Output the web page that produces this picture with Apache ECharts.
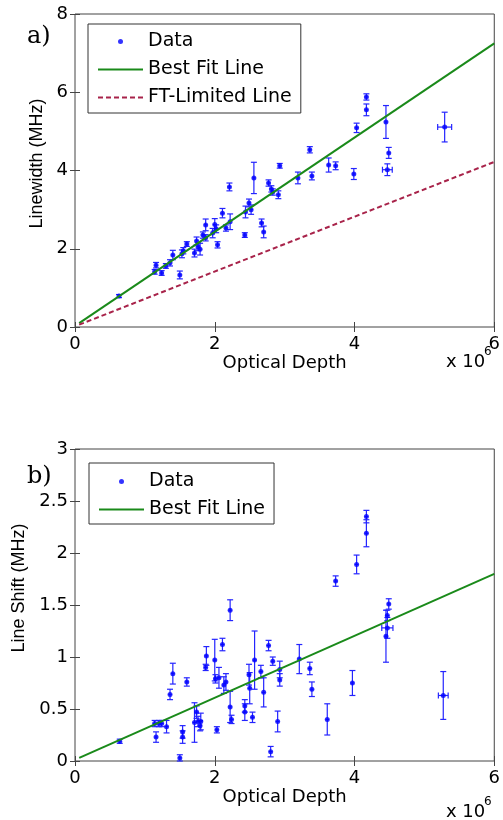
<!DOCTYPE html>
<html>
<head>
<meta charset="utf-8">
<script src="https://cdn.jsdelivr.net/npm/echarts@6/dist/echarts.min.js"></script>
<style>
  html, body { margin: 0; padding: 0; background: #fff; }
  #main { width: 503px; height: 820px; }
</style>
</head>
<body>
<div id="main"></div>
<script>
// optical depth in units of 1e6; [x, y, yErr, xErr]
var linewidthData = [
  [0.63, 0.79, 0.04], [1.14, 1.41, 0.06], [1.16, 1.58, 0.07], [1.24, 1.38, 0.06],
  [1.30, 1.56, 0.06], [1.36, 1.64, 0.08], [1.40, 1.84, 0.12], [1.50, 1.33, 0.10],
  [1.53, 1.87, 0.10], [1.55, 1.95, 0.08], [1.60, 2.12, 0.06], [1.71, 1.89, 0.10],
  [1.74, 2.20, 0.10], [1.76, 2.05, 0.10], [1.79, 1.99, 0.15], [1.83, 2.35, 0.08],
  [1.87, 2.61, 0.15], [1.87, 2.28, 0.08], [1.97, 2.40, 0.12], [2.00, 2.62, 0.15],
  [2.02, 2.51, 0.10], [2.04, 2.10, 0.08], [2.11, 2.91, 0.12], [2.16, 2.53, 0.08],
  [2.22, 2.69, 0.20], [2.21, 3.58, 0.10], [2.43, 2.35, 0.06], [2.44, 2.94, 0.15],
  [2.49, 3.17, 0.10], [2.52, 3.00, 0.12], [2.56, 3.81, 0.40], [2.67, 2.66, 0.10],
  [2.70, 2.43, 0.15], [2.77, 3.68, 0.08], [2.81, 3.53, 0.08], [2.83, 3.45, 0.08],
  [2.91, 3.38, 0.10], [2.93, 4.12, 0.06], [3.19, 3.81, 0.15], [3.36, 4.53, 0.08],
  [3.39, 3.86, 0.10], [3.63, 4.14, 0.18], [3.73, 4.12, 0.10], [3.99, 3.91, 0.14],
  [4.03, 5.09, 0.12], [4.17, 5.55, 0.15], [4.17, 5.88, 0.08], [4.45, 5.24, 0.42],
  [4.49, 4.45, 0.14], [4.47, 4.02, 0.15, 0.07], [5.29, 5.11, 0.38, 0.10]
];
var shiftData = [
  [0.64, 0.19, 0.02], [1.16, 0.23, 0.05], [1.14, 0.36, 0.03], [1.20, 0.36, 0.03],
  [1.24, 0.36, 0.03], [1.31, 0.33, 0.06], [1.36, 0.64, 0.05], [1.40, 0.84, 0.10],
  [1.50, 0.03, 0.03], [1.54, 0.28, 0.06], [1.54, 0.23, 0.06], [1.60, 0.76, 0.04],
  [1.74, 0.47, 0.06], [1.71, 0.37, 0.19], [1.76, 0.38, 0.05], [1.79, 0.34, 0.05],
  [1.80, 0.38, 0.08], [1.87, 0.90, 0.03], [1.88, 1.01, 0.09], [2.00, 0.97, 0.20],
  [2.01, 0.79, 0.04], [2.03, 0.30, 0.03], [2.06, 0.80, 0.10], [2.11, 1.12, 0.06],
  [2.13, 0.73, 0.08], [2.16, 0.76, 0.08], [2.22, 1.45, 0.10], [2.22, 0.52, 0.15],
  [2.24, 0.40, 0.04], [2.43, 0.53, 0.06], [2.43, 0.47, 0.08], [2.49, 0.83, 0.10],
  [2.50, 0.70, 0.15], [2.54, 0.42, 0.05], [2.57, 0.97, 0.28], [2.66, 0.86, 0.06],
  [2.70, 0.66, 0.14], [2.77, 1.11, 0.05], [2.80, 0.09, 0.05], [2.83, 0.96, 0.04],
  [2.90, 0.38, 0.10], [2.93, 0.78, 0.06], [2.93, 0.88, 0.08], [3.21, 0.98, 0.14],
  [3.36, 0.89, 0.06], [3.39, 0.69, 0.07], [3.61, 0.40, 0.15], [3.73, 1.73, 0.05],
  [3.97, 0.75, 0.12], [4.03, 1.89, 0.09], [4.17, 2.19, 0.13], [4.17, 2.35, 0.06],
  [4.45, 1.20, 0.25], [4.47, 1.28, 0.10, 0.08], [4.47, 1.40, 0.05], [4.49, 1.51, 0.05],
  [5.27, 0.63, 0.23, 0.07]
];
var bestFitA = [[0.06, 0.10], [6, 7.25]];
var ftLimitedA = [[0.06, 0.06], [6, 4.22]];
var bestFitB = [[0.06, 0.03], [6, 1.80]];

var blue = "#0000ff";
var green = "#1a8a1a";
var maroon = "#a8234a";
var axisColor = "#444";

function withXErr(arr) {
  return arr.map(function(d) {
    return [d[0], d[1], d[2], d[3] || 0.025];
  });
}

function errRender(params, api) {
  var x = api.value(0), y = api.value(1), ey = api.value(2), ex = api.value(3);
  var lo = api.coord([x, y - ey]);
  var hi = api.coord([x, y + ey]);
  var l = api.coord([x - ex, y]);
  var r = api.coord([x + ex, y]);
  var cap = 3;
  var st = { stroke: "#2424ff", lineWidth: 1.2 };
  var kids = [
    { type: "line", shape: { x1: lo[0], y1: lo[1], x2: hi[0], y2: hi[1] }, style: st },
    { type: "line", shape: { x1: lo[0] - cap, y1: lo[1], x2: lo[0] + cap, y2: lo[1] }, style: st },
    { type: "line", shape: { x1: hi[0] - cap, y1: hi[1], x2: hi[0] + cap, y2: hi[1] }, style: st },
    { type: "line", shape: { x1: l[0], y1: l[1], x2: r[0], y2: r[1] }, style: st }
  ];
  if (ex > 0.05) {
    kids.push({ type: "line", shape: { x1: l[0], y1: l[1] - cap, x2: l[0], y2: l[1] + cap }, style: st });
    kids.push({ type: "line", shape: { x1: r[0], y1: r[1] - cap, x2: r[0], y2: r[1] + cap }, style: st });
  }
  return { type: "group", children: kids };
}

function xAx(grid, pos, nameGap) {
  var main = pos === "bottom";
  return {
    gridIndex: grid, type: "value", position: pos,
    min: 0, max: 6, interval: 2,
    name: main ? "Optical Depth" : "",
    nameLocation: "middle", nameGap: nameGap,
    nameTextStyle: { fontFamily: "DejaVu Sans", fontSize: 18, color: "#000" },
    axisLine: { show: false },
    axisTick: { inside: true, length: 5, lineStyle: { color: axisColor } },
    axisLabel: { show: main, margin: 8, fontFamily: "DejaVu Sans", fontSize: 18, color: "#000" },
    splitLine: { show: false }
  };
}

function yAx(grid, pos, max, interval, name, nameGap, shiftUp) {
  var main = pos === "left";
  return {
    gridIndex: grid, type: "value", position: pos,
    min: 0, max: max, interval: interval,
    name: main ? name : "",
    nameLocation: "middle", nameGap: nameGap,
    nameTextStyle: { fontFamily: "Liberation Sans", fontSize: 18, color: "#000", padding: [0, 0, 0, shiftUp * 2] },
    axisLine: { show: false },
    axisTick: { inside: true, length: 5, lineStyle: { color: axisColor } },
    axisLabel: { show: main, margin: 7, fontFamily: "DejaVu Sans", fontSize: 18, color: "#000" },
    splitLine: { show: false }
  };
}

// line entries: hide the marker ECharts puts in the middle of the line icon
function lineItem(name) {
  return { name: name, itemStyle: { color: "rgba(0,0,0,0)", borderWidth: 0, opacity: 0 } };
}

function legendBox(top, left, names, pad) {
  return {
    orient: "vertical", left: left, top: top,
    itemWidth: 45, itemHeight: 5, itemGap: 9,
    padding: pad,
    borderColor: "#333", borderWidth: 1, backgroundColor: "#fff",
    selectedMode: false,
    textStyle: { fontFamily: "DejaVu Sans", fontSize: 19, color: "#000" },
    data: names
  };
}

var chart = echarts.init(document.getElementById("main"));
var option = {
  animation: false,
  grid: [
    { left: 75, top: 14, width: 420, height: 313, show: true, borderColor: axisColor, borderWidth: 1, backgroundColor: "#fff" },
    { left: 75, top: 449, width: 420, height: 312, show: true, borderColor: axisColor, borderWidth: 1, backgroundColor: "#fff" }
  ],
  xAxis: [xAx(0, "bottom", 24), xAx(0, "top", 0), xAx(1, "bottom", 26), xAx(1, "top", 0)],
  yAxis: [
    yAx(0, "left", 8, 2, "Linewidth (MHz)", 27, 7),
    yAx(0, "right", 8, 2, "", 0, 0),
    yAx(1, "left", 3, 0.5, "Line Shift (MHz)", 44, 17),
    yAx(1, "right", 3, 0.5, "", 0, 0)
  ],
  legend: [
    legendBox(24, 88, [{ name: "Data", icon: "circle" }, lineItem("Best Fit Line"), lineItem("FT-Limited Line")], [8, 9, 6, 9]),
    legendBox(463, 89, [{ name: "Data", icon: "circle" }, lineItem("Best Fit Line")], [9, 9, 5, 9])
  ],
  series: [
    { type: "custom", name: "errA", xAxisIndex: 0, yAxisIndex: 0, renderItem: errRender,
      data: withXErr(linewidthData), encode: { x: 0, y: 1 }, z: 2 },
    { type: "scatter", name: "Data", xAxisIndex: 0, yAxisIndex: 0, symbol: "circle", symbolSize: 5,
      itemStyle: { color: blue }, data: linewidthData.map(function(d) { return [d[0], d[1]]; }), z: 3 },
    { type: "line", name: "Best Fit Line", xAxisIndex: 0, yAxisIndex: 0, data: bestFitA,
      symbol: "none", lineStyle: { color: green, width: 2 }, itemStyle: { color: green }, z: 4 },
    { type: "line", name: "FT-Limited Line", xAxisIndex: 0, yAxisIndex: 0, data: ftLimitedA,
      symbol: "none", lineStyle: { color: maroon, width: 2, type: [5, 3] }, itemStyle: { color: maroon }, z: 4 },

    { type: "custom", name: "errB", xAxisIndex: 2, yAxisIndex: 2, renderItem: errRender,
      data: withXErr(shiftData), encode: { x: 0, y: 1 }, z: 2 },
    { type: "scatter", name: "Data", xAxisIndex: 2, yAxisIndex: 2, symbol: "circle", symbolSize: 5,
      itemStyle: { color: blue }, data: shiftData.map(function(d) { return [d[0], d[1]]; }), z: 3 },
    { type: "line", name: "Best Fit Line", xAxisIndex: 2, yAxisIndex: 2, data: bestFitB,
      symbol: "none", lineStyle: { color: green, width: 2 }, itemStyle: { color: green }, z: 4 }
  ],
  graphic: [
    { type: "text", left: 27, top: 25, style: { text: "a)", font: "24px 'DejaVu Serif'", fill: "#000" } },
    { type: "text", left: 27, top: 465, style: { text: "b)", font: "24px 'DejaVu Serif'", fill: "#000" } },
    { type: "text", left: 446, top: 353, style: { text: "x 10", font: "18px 'DejaVu Sans'", fill: "#000" } },
    { type: "text", left: 484, top: 346, style: { text: "6", font: "12px 'DejaVu Sans'", fill: "#000" } },
    { type: "text", left: 446, top: 803, style: { text: "x 10", font: "18px 'DejaVu Sans'", fill: "#000" } },
    { type: "text", left: 484, top: 796, style: { text: "6", font: "12px 'DejaVu Sans'", fill: "#000" } }
  ]
};
chart.setOption(option);
</script>
</body>
</html>
